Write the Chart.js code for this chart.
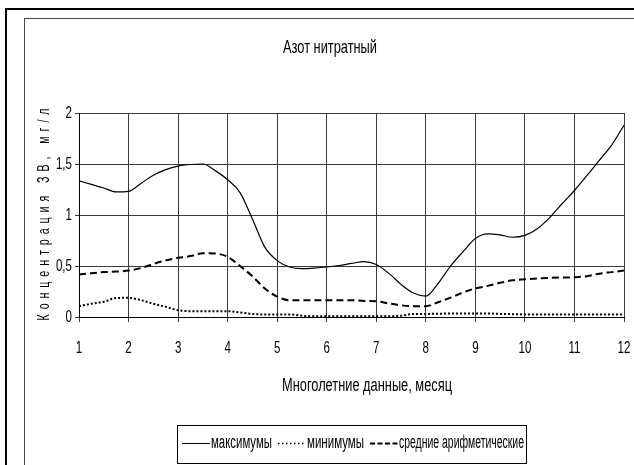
<!DOCTYPE html>
<html>
<head>
<meta charset="utf-8">
<script src="https://cdn.jsdelivr.net/npm/chart.js@4/dist/chart.umd.min.js"></script>
<style>
  html, body { margin: 0; padding: 0; background: #fff; }
  canvas { display: block; }
</style>
</head>
<body>
<canvas id="chart" width="634" height="465"></canvas>
<script>
// Month positions (quarter-month steps) at which the curves are sampled
const months = [1, 1.25, 1.5, 1.75, 2, 2.25, 2.5, 2.75, 3, 3.25, 3.5, 3.75, 4, 4.25, 4.5, 4.75,
  5, 5.25, 5.5, 5.75, 6, 6.25, 6.5, 6.75, 7, 7.25, 7.5, 7.75, 8, 8.25, 8.5, 8.75,
  9, 9.25, 9.5, 9.75, 10, 10.25, 10.5, 10.75, 11, 11.25, 11.5, 11.75, 12];

// Nitrate nitrogen, mg/l
const maxima = [1.335, 1.30, 1.265, 1.226, 1.232, 1.31, 1.39, 1.445, 1.48, 1.495, 1.50, 1.435, 1.345, 1.22, 0.96, 0.685,
  0.553, 0.49, 0.475, 0.48, 0.49, 0.505, 0.525, 0.543, 0.515, 0.43, 0.32, 0.235, 0.205, 0.33, 0.50, 0.64,
  0.77, 0.815, 0.805, 0.782, 0.80, 0.865, 0.975, 1.11, 1.24, 1.385, 1.535, 1.685, 1.88];

const minima = [0.106, 0.13, 0.15, 0.186, 0.188, 0.165, 0.13, 0.10, 0.067, 0.057, 0.057, 0.057, 0.057, 0.045, 0.03, 0.025,
  0.025, 0.025, 0.012, 0.008, 0.008, 0.008, 0.008, 0.008, 0.008, 0.008, 0.012, 0.03, 0.03, 0.032, 0.034, 0.034,
  0.034, 0.034, 0.03, 0.028, 0.025, 0.025, 0.025, 0.025, 0.025, 0.025, 0.025, 0.025, 0.025];

const means = [0.416, 0.43, 0.44, 0.445, 0.455, 0.48, 0.52, 0.555, 0.58, 0.597, 0.625, 0.622, 0.59, 0.50, 0.40, 0.28,
  0.20, 0.165, 0.165, 0.165, 0.165, 0.165, 0.165, 0.158, 0.155, 0.133, 0.115, 0.106, 0.106, 0.145, 0.19, 0.24,
  0.28, 0.305, 0.335, 0.36, 0.37, 0.378, 0.383, 0.387, 0.39, 0.40, 0.425, 0.44, 0.455];

const seriesNames = ['максимумы', 'минимумы', 'средние арифметические'];
const xTickValues = [1, 2, 3, 4, 5, 6, 7, 8, 9, 10, 11, 12];
const xTickLabels = ['1', '2', '3', '4', '5', '6', '7', '8', '9', '10', '11', '12'];
const yTickValues = [0, 0.5, 1, 1.5, 2];
const yTickLabels = ['0', '0,5', '1', '1,5', '2'];

const chartTitle = 'Азот нитратный';
const xTitle = 'Многолетние данные, месяц';
const yTitle = 'К о н ц е н т р а ц и я   З В ,   м г / л';

const FONT = '"Liberation Sans", Arial, sans-serif';
const NARROW = 0.68; // horizontal squeeze for the tall narrow lettering

function points(values) {
  return values.map((v, i) => ({ x: months[i], y: v }));
}

// Draws condensed text; when a target width is given the squeeze is fitted to it
function narrowText(ctx, text, x, y, o) {
  ctx.save();
  ctx.font = o.size + 'px ' + FONT;
  if (o.spacing) ctx.letterSpacing = o.spacing;
  ctx.fillStyle = '#000';
  ctx.textAlign = o.align || 'center';
  ctx.textBaseline = 'middle';
  const natural = ctx.measureText(text).width;
  const sx = o.width ? o.width / natural : NARROW;
  ctx.translate(x, y);
  if (o.rotate) ctx.rotate(o.rotate);
  ctx.scale(sx, 1);
  ctx.fillText(text, 0, 0);
  ctx.restore();
}

// Legend sample strokes
const legendStyles = [
  { width: 1, dash: [] },
  { width: 1.5, dash: [1.5, 2.5] },
  { width: 2, dash: [5, 2.5] }
];
const legendTextWidths = [61, 57, 125];

const decorPlugin = {
  id: 'decor',
  beforeDraw(chart) {
    const ctx = chart.ctx;
    ctx.save();
    ctx.fillStyle = '#fff';
    ctx.fillRect(0, 0, chart.width, chart.height);
    ctx.strokeStyle = '#000';
    ctx.lineWidth = 2;
    ctx.strokeRect(6, 9, chart.width + 20, chart.height + 20);
    ctx.strokeStyle = '#444';
    ctx.lineWidth = 1;
    ctx.strokeRect(24.5, 18.5, chart.width + 20, chart.height + 20);
    ctx.restore();
  },
  afterDraw(chart) {
    const ctx = chart.ctx;
    const xs = chart.scales.x;
    const ys = chart.scales.y;

    // tick labels, placed by the scales
    xTickValues.forEach((v, i) => {
      narrowText(ctx, xTickLabels[i], xs.getPixelForValue(v), 348, { size: 17 });
    });
    yTickValues.forEach((v, i) => {
      narrowText(ctx, yTickLabels[i], 72, ys.getPixelForValue(v), { size: 17, align: 'right' });
    });

    // titles
    narrowText(ctx, chartTitle, 330, 48, { size: 18, width: 94 });
    narrowText(ctx, xTitle, 367, 386, { size: 18, width: 170 });
    narrowText(ctx, yTitle, 45, 214, { size: 16, width: 213, spacing: '1.5px', rotate: -Math.PI / 2 });

    // legend
    const ly = 443;
    ctx.save();
    ctx.strokeStyle = '#000';
    ctx.lineWidth = 1;
    ctx.strokeRect(177.5, 425.5, 349, 38);
    ctx.restore();
    let x = 182;
    chart.data.datasets.forEach((ds, i) => {
      const st = legendStyles[i];
      ctx.save();
      ctx.strokeStyle = ds.borderColor;
      ctx.lineWidth = st.width;
      ctx.setLineDash(st.dash);
      ctx.beginPath();
      ctx.moveTo(x, ly + 0.5);
      ctx.lineTo(x + 28, ly + 0.5);
      ctx.stroke();
      ctx.restore();
      x += 29;
      narrowText(ctx, ds.label, x, ly, { size: 18, width: legendTextWidths[i], align: 'left' });
      x += legendTextWidths[i] + 6;
    });
  }
};

new Chart(document.getElementById('chart'), {
  type: 'line',
  data: {
    datasets: [
      {
        label: seriesNames[0],
        data: points(maxima),
        borderColor: '#000',
        borderWidth: 1.2,
        pointRadius: 0,
        cubicInterpolationMode: 'monotone',
        fill: false
      },
      {
        label: seriesNames[1],
        data: points(minima),
        borderColor: '#000',
        borderWidth: 2,
        borderDash: [2, 2],
        pointRadius: 0,
        cubicInterpolationMode: 'monotone',
        fill: false
      },
      {
        label: seriesNames[2],
        data: points(means),
        borderColor: '#000',
        borderWidth: 2,
        borderDash: [7, 4],
        pointRadius: 0,
        cubicInterpolationMode: 'monotone',
        fill: false
      }
    ]
  },
  options: {
    responsive: false,
    animation: false,
    layout: { padding: { top: 113, left: 0, right: 10, bottom: 0 } },
    plugins: {
      title: { display: false },
      legend: { display: false },
      tooltip: { enabled: false }
    },
    scales: {
      x: {
        type: 'linear',
        min: 1,
        max: 12,
        afterFit(scale) { scale.height = 148; },
        afterBuildTicks(scale) {
          scale.ticks = xTickValues.map(v => ({ value: v }));
        },
        ticks: { display: false },
        grid: { color: '#3a3a3a', lineWidth: 1, tickLength: 5, drawTicks: true },
        border: { color: '#000', width: 1 }
      },
      y: {
        type: 'linear',
        min: 0,
        max: 2,
        afterFit(scale) { scale.width = 79; },
        afterBuildTicks(scale) {
          scale.ticks = yTickValues.map(v => ({ value: v }));
        },
        ticks: { display: false },
        grid: { color: '#3a3a3a', lineWidth: 1, tickLength: 4, drawTicks: true },
        border: { color: '#000', width: 1 }
      }
    }
  },
  plugins: [decorPlugin]
});
</script>
</body>
</html>
